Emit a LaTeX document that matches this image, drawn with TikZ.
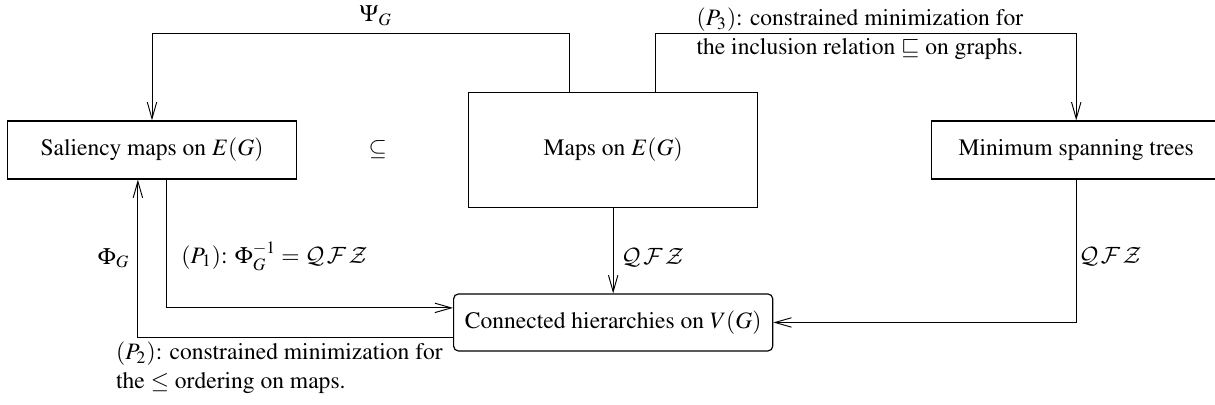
\documentclass[tikz,border=0pt]{standalone}
\usepackage[T1]{fontenc}
\usepackage{mathptmx}
\usepackage{tikz}
\usetikzlibrary{arrows.meta, positioning}

\DeclareMathAlphabet{\mathcm}{OMS}{cmsy}{m}{n}
\newcommand{\qfz}{\mathcm{Q}\,\mathcm{F}\,\mathcm{Z}}

\begin{document}
\begin{tikzpicture}[x=0.425pt, y=-0.425pt, node distance=196pt, on grid, line width=0.4pt, >={Straight Barb[length=7pt, width=4pt]}, box/.style={rectangle, draw, line width=0.5pt, minimum width=123pt, minimum height=24.7pt, inner sep=0pt, align=center}, lbl/.style={inner sep=2pt, align=left}]

        \useasboundingbox (0,0) rectangle (1215,405);

        \node[box] (sal) at (152,150) {Saliency maps on $E(G)$};

        \node[right=96pt of sal] (incl) {$\subseteq$};

        \node[box, right=196pt of sal, minimum height=48.9pt] (maps) {Maps on $E(G)$};

        \node[box, right=196.8pt of maps] (mst) {Minimum spanning trees};

        \node[box, rounded corners=2pt, below=73.3pt of maps, minimum width=135.6pt, minimum height=24.2pt] (hier) {Connected hierarchies on $V(G)$};

        \draw[->] ([xshift=-18.5pt]maps.north) -- ++(0,24.7pt) -| (sal.north)
            node[pos=0.25, above, xshift=6.4pt] {$\Psi_G$};

        \draw[->] ([xshift=18pt]maps.north) -- ++(0,24.7pt) -| (mst.north)
            node[pos=0.25, lbl, xshift=-2.5pt] {$(P_3)$: constrained minimization for\\the inclusion relation $\sqsubseteq$ on graphs.};

        \draw[->] (maps) -- (hier)
            node[pos=0.58, right] {$\qfz$};

        \draw[->] (mst.south) |- (hier.east)
            node[pos=0.27, right, inner sep=1pt] {$\qfz$};

        \draw[->] ([xshift=6pt]sal.south) |- ([yshift=6.2pt]hier.west)
            node[pos=0.3, right, xshift=3pt] {$(P_1)$: $\Phi_G^{-1} = \qfz$};

        \draw[->] ([yshift=-6.2pt]hier.west) -| ([xshift=-6pt]sal.south)
            node[pos=0.75, left] {$\Phi_G$}
            node[pos=0.25, below, lbl, xshift=-6.8pt] {$(P_2)$: constrained minimization for\\the $\leq$ ordering on maps.};

\end{tikzpicture}
\end{document}
